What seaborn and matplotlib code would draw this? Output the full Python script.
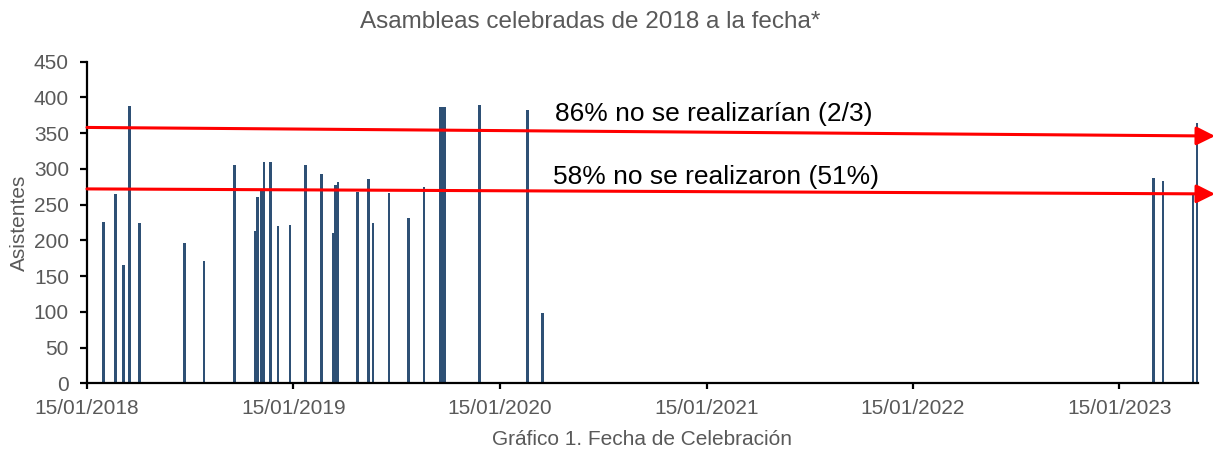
import seaborn as sns
import pandas as pd
import numpy as np
import matplotlib.pyplot as plt
import matplotlib.dates as mdates
import matplotlib.transforms as mtransforms

# data
fechas = [
    "2018-02-13", "2018-03-06", "2018-03-21", "2018-03-31", "2018-04-18",
    "2018-07-06", "2018-08-10", "2018-10-03", "2018-11-08", "2018-11-12",
    "2018-11-20", "2018-11-24", "2018-12-06", "2018-12-19", "2019-01-09",
    "2019-02-06", "2019-03-06", "2019-03-27", "2019-03-31", "2019-04-04",
    "2019-05-09", "2019-05-28", "2019-06-05", "2019-07-03", "2019-08-07",
    "2019-09-03", "2019-10-02", "2019-10-06", "2019-10-09", "2019-12-10",
    "2020-03-04", "2020-03-31", "2023-03-16", "2023-04-02", "2023-05-25",
    "2023-06-02",
]
asistentes = [
    226, 265, 166, 388, 224,
    196, 171, 306, 213, 261,
    270, 310, 310, 220, 222,
    305, 293, 211, 278, 281,
    267, 286, 224, 266, 231,
    274, 386, 386, 386, 389,
    382, 98, 287, 283, 264,
    364,
]
ticks = ["2018-01-15", "2019-01-15", "2020-01-15", "2021-01-15",
         "2022-01-15", "2023-01-15"]
x_range = ["2018-01-15", "2023-06-03"]

# red arrows: (start, end) in Asistentes
flecha_86 = (358, 346)
flecha_58 = (272, 265)

title = "Asambleas celebradas de 2018 a la fecha*"
x_label = "Gráfico 1. Fecha de Celebración"
y_label = "Asistentes"
nota_86 = "86% no se realizarían (2/3)"
nota_58 = "58% no se realizaron (51%)"

gris = "#595959"
azul = "#2e5075"

sns.set_theme(style="ticks")
plt.rcParams["font.family"] = ["Liberation Sans", "DejaVu Sans"]

data = pd.DataFrame({"fecha": mdates.date2num(pd.to_datetime(fechas)),
                     "asistentes": asistentes})

fig = plt.figure(figsize=(12.15, 4.49), dpi=100)
ax = fig.add_axes([0.0716, 0.1463, 0.9144, 0.7163])

# bar width of ~4.5 days on the native (date) scale
min_gap = np.min(np.diff(np.unique(data["fecha"])))
sns.barplot(data=data, x="fecha", y="asistentes", native_scale=True,
            width=4.8 / min_gap, color=azul, saturation=1, errorbar=None,
            linewidth=0, ax=ax)

ax.set_xlim(mdates.date2num(pd.to_datetime(x_range)))
ax.set_ylim(0, 450)
ax.set_yticks(range(0, 451, 50))
ax.set_xticks(mdates.date2num(pd.to_datetime(ticks)))
ax.xaxis.set_major_formatter(mdates.DateFormatter("%d/%m/%Y"))

sns.despine(ax=ax)
for s in ["left", "bottom"]:
    ax.spines[s].set_color("black")
    ax.spines[s].set_linewidth(1.6)
ax.tick_params(axis="y", length=5, width=1.6, color="black", pad=8,
               labelsize=15, labelcolor=gris)
ax.tick_params(axis="x", length=4, width=1.6, color="black", pad=7,
               labelsize=15, labelcolor=gris)

ax.set_xlabel(x_label, fontsize=15, color=gris, labelpad=9)
ax.set_ylabel(y_label, fontsize=15, color=gris)
ax.yaxis.set_label_coords(-0.052, 0.5)
fig.text(0.486, 0.951, title, ha="center", va="center", fontsize=17.5,
         color=gris)

# red arrows with their notes
for (y0, y1) in [flecha_86, flecha_58]:
    ax.annotate("", xy=(1.0153, y1), xytext=(0.0, y0),
                xycoords=("axes fraction", "data"),
                textcoords=("axes fraction", "data"),
                annotation_clip=False,
                arrowprops=dict(arrowstyle="-|>", color="red", lw=2.2,
                                mutation_scale=28, shrinkA=0, shrinkB=0))

blend = mtransforms.blended_transform_factory(ax.transAxes, ax.transData)
ax.text(0.421, 377, nota_86, fontsize=19, color="black",
        va="center", ha="left", transform=blend)
ax.text(0.419, 289, nota_58, fontsize=19, color="black",
        va="center", ha="left", transform=blend)

fig.savefig("out.png", dpi=100)
